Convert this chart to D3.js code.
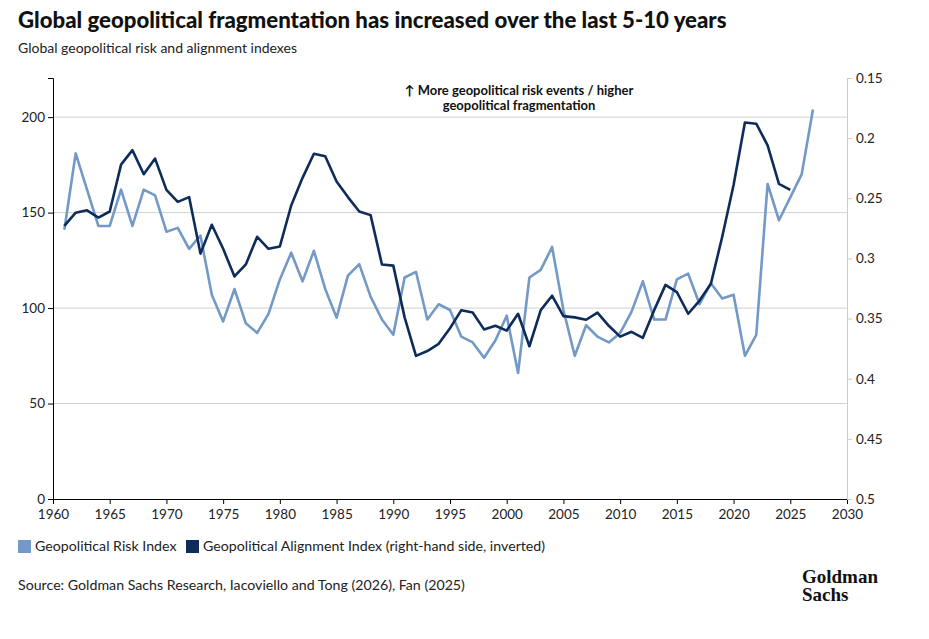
<!DOCTYPE html>
<html><head><meta charset="utf-8">
<script src="https://cdn.jsdelivr.net/npm/d3@7"></script>
<style>body{margin:0;background:#fff;font-family:Lato,"Open Sans",sans-serif}</style>
</head><body><svg id="c" width="929" height="639"></svg>
<script>
var riskYears = d3.range(1961, 2028);
var riskValues = [141,181,162,143,143,162,143,162,159,140,142,131,138,107,93,110,92,87,97,115,129,114,130,110,95,117,123,106,94,86,116,119,94,102,99,85,82,74,83,96,66,116,120,132,99,75,91,85,82,87,98,114,94,94,115,118,102,113,105,107,75,86,165,146,158,170,204];
var alignYears = d3.range(1961, 2026);
var alignValues = [0.273,0.262,0.260,0.266,0.261,0.222,0.210,0.230,0.217,0.243,0.253,0.249,0.296,0.272,0.292,0.315,0.305,0.282,0.292,0.290,0.256,0.233,0.213,0.215,0.236,0.249,0.261,0.264,0.305,0.306,0.349,0.381,0.377,0.371,0.358,0.343,0.345,0.359,0.356,0.360,0.346,0.373,0.343,0.331,0.348,0.349,0.351,0.345,0.356,0.365,0.361,0.366,0.343,0.322,0.328,0.346,0.335,0.321,0.282,0.239,0.187,0.188,0.206,0.238,0.243];
var xTicks = d3.range(1960, 2031, 5);
var leftTicks = [0,50,100,150,200];
var rightTicks = [0.15,0.2,0.25,0.3,0.35,0.4,0.45,0.5];

var svg = d3.select("#c");
var L = 53, R = 847, T = 78, B = 499;
var x = d3.scaleLinear().domain([1960, 2030]).range([L, R]);
var yl = d3.scaleLinear().domain([0, 220.5]).range([B, T]);
var yr = d3.scaleLinear().domain([0.5, 0.15]).range([B, T]);

// gridlines
svg.append("g").selectAll("line").data(leftTicks.slice(1)).join("line")
  .attr("x1", L).attr("x2", R).attr("y1", d => yl(d)).attr("y2", d => yl(d))
  .attr("stroke", "#d0d0d0").attr("stroke-width", 1);

var ax = svg.append("g").attr("transform", "translate(0," + B + ")")
  .call(d3.axisBottom(x).tickValues(xTicks).tickFormat(d3.format("d")).tickSize(5));
var ayl = svg.append("g").attr("transform", "translate(" + L + ",0)")
  .call(d3.axisLeft(yl).tickValues(leftTicks).tickSize(5));
var ayr = svg.append("g").attr("transform", "translate(" + R + ",0)")
  .call(d3.axisRight(yr).tickValues(rightTicks).tickFormat(d => String(d)).tickSize(5));
ayr.select(".domain").attr("stroke", "#ccc");
ayr.selectAll(".tick line").attr("stroke", "#ccc");
[ax, ayl, ayr].forEach(a => a.selectAll("text").attr("font-size", 13.5).attr("fill", "#222").style("font-family", "Lato,sans-serif"));
ayr.selectAll("text").attr("x", 9);
ax.selectAll("text").attr("dy", "0.9em");

svg.append("path").datum(riskYears.map((d, i) => [d, riskValues[i]]))
  .attr("fill", "none").attr("stroke", "#7399c6").attr("stroke-width", 2.6).attr("stroke-linejoin", "round")
  .attr("d", d3.line().x(d => x(d[0])).y(d => yl(d[1])));
svg.append("path").datum(alignYears.map((d, i) => [d, alignValues[i]]))
  .attr("fill", "none").attr("stroke", "#0e2c5a").attr("stroke-width", 2.6).attr("stroke-linejoin", "round")
  .attr("d", d3.line().x(d => x(d[0])).y(d => yr(d[1])));

svg.append("text").attr("x", 18).attr("y", 28).attr("font-size", 22.2).attr("font-weight", 900).attr("fill", "#111")
  .text("Global geopolitical fragmentation has increased over the last 5-10 years");
svg.append("text").attr("x", 18).attr("y", 53).attr("font-size", 14).attr("fill", "#222")
  .text("Global geopolitical risk and alignment indexes");
var ann = svg.append("text").attr("text-anchor", "middle").attr("font-size", 13).attr("font-weight", 700).attr("fill", "#111");
ann.append("tspan").attr("x", 519).attr("y", 95).text("↑ More geopolitical risk events / higher");
ann.append("tspan").attr("x", 519).attr("y", 110).text("geopolitical fragmentation");

var lg = svg.append("g").attr("font-size", 14.2).attr("fill", "#222");
lg.append("rect").attr("x", 18).attr("y", 540).attr("width", 13).attr("height", 13).attr("fill", "#7399c6");
lg.append("text").attr("x", 35).attr("y", 551).text("Geopolitical Risk Index");
lg.append("rect").attr("x", 186).attr("y", 540).attr("width", 13).attr("height", 13).attr("fill", "#0e2c5a");
lg.append("text").attr("x", 203).attr("y", 551).text("Geopolitical Alignment Index (right-hand side, inverted)");

svg.append("text").attr("x", 18).attr("y", 590).attr("font-size", 14.2).attr("fill", "#222")
  .text("Source: Goldman Sachs Research, Iacoviello and Tong (2026), Fan (2025)");
svg.append("text").attr("x", 802).attr("y", 583).attr("font-family", "'Liberation Serif',serif").attr("font-weight", 700).attr("font-size", 19).attr("fill", "#111").text("Goldman");
svg.append("text").attr("x", 802).attr("y", 601).attr("font-family", "'Liberation Serif',serif").attr("font-weight", 700).attr("font-size", 19).attr("fill", "#111").text("Sachs");
</script></body></html>
